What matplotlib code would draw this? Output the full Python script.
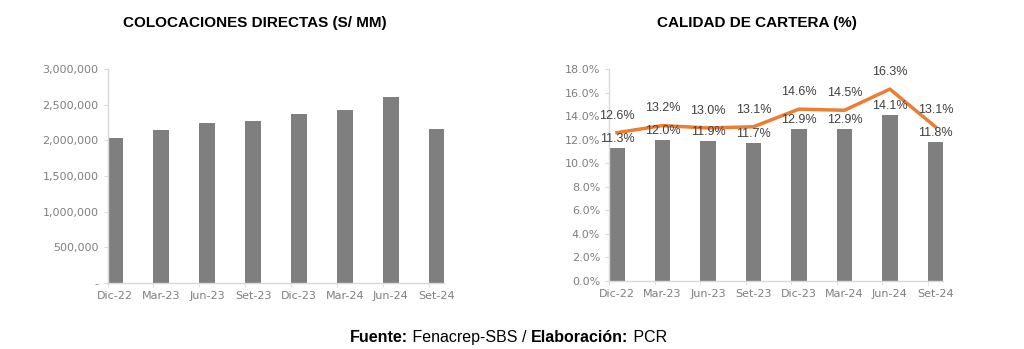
import numpy as np
import matplotlib.pyplot as plt
from matplotlib.ticker import FuncFormatter

# Data
periodos = ["Dic-22", "Mar-23", "Jun-23", "Set-23", "Dic-23", "Mar-24", "Jun-24", "Set-24"]
colocaciones = [2030000, 2145000, 2240000, 2270000, 2365000, 2430000, 2605000, 2155000]
morosidad = [11.3, 12.0, 11.9, 11.7, 12.9, 12.9, 14.1, 11.8]
cartera_alto_riesgo = [12.6, 13.2, 13.0, 13.1, 14.6, 14.5, 16.3, 13.1]

bar_color = "#7f7f7f"
line_color = "#ed7d31"
axis_color = "#d9d9d9"
tick_color = "#7f7f7f"
label_color = "#404040"

plt.rcParams["font.family"] = ["Liberation Sans", "DejaVu Sans"]

fig = plt.figure(figsize=(10.24, 3.49), dpi=100)
ax1 = fig.add_axes([0.105, 0.189, 0.329, 0.613])
ax2 = fig.add_axes([0.595, 0.195, 0.326, 0.607])

w = 0.34
x = np.arange(len(periodos))


def style_axis(ax):
    for s in ["top", "right"]:
        ax.spines[s].set_visible(False)
    for s in ["left", "bottom"]:
        ax.spines[s].set_color(axis_color)
        ax.spines[s].set_linewidth(1)
    ax.set_xlim(-w / 2, len(periodos) - 1 + w / 2)
    ax.set_xticks(x)
    ax.set_xticklabels(periodos, family="DejaVu Sans")
    ax.tick_params(axis="x", length=0, pad=6, labelsize=8, labelcolor=tick_color)
    ax.set_xticks(x - w / 2, minor=True)
    ax.tick_params(axis="x", which="minor", length=3, color=axis_color)
    ax.tick_params(axis="y", length=3, color=axis_color, labelsize=8, labelcolor=tick_color)
    for lbl in ax.get_yticklabels():
        lbl.set_family("DejaVu Sans")


# Left chart
ax1.bar(x, colocaciones, width=w, color=bar_color)
ax1.set_ylim(0, 3000000)
ax1.set_yticks(np.arange(0, 3000001, 500000))
ax1.yaxis.set_major_formatter(FuncFormatter(lambda v, p: "-" if v == 0 else f"{v:,.0f}"))
style_axis(ax1)
fig.text(0.249, 0.935, "COLOCACIONES DIRECTAS (S/ MM)", ha="center", va="center",
         fontsize=11, fontweight="bold", color="#000000")

# Right chart
ax2.bar(x, morosidad, width=w, color=bar_color, zorder=2)
ax2.plot(x, cartera_alto_riesgo, color=line_color, linewidth=2.5, zorder=3)
ax2.set_ylim(0, 18)
ax2.set_yticks(np.arange(0, 18.1, 2))
ax2.yaxis.set_major_formatter(FuncFormatter(lambda v, p: f"{v:.1f}%"))
style_axis(ax2)
for xi, v in zip(x, morosidad):
    ax2.annotate(f"{v:.1f}%", (xi, v), xytext=(0, 2), textcoords="offset points",
                 ha="center", va="bottom", fontsize=9, color=label_color, zorder=4)
for xi, v in zip(x, cartera_alto_riesgo):
    ax2.annotate(f"{v:.1f}%", (xi, v), xytext=(0, 8), textcoords="offset points",
                 ha="center", va="bottom", fontsize=9, color=label_color, zorder=4)
fig.text(0.739, 0.935, "CALIDAD DE CARTERA (%)", ha="center", va="center",
         fontsize=11, fontweight="bold", color="#000000")

# Footer
fy = 0.02
t1 = fig.text(0.342, fy, "Fuente:", fontsize=11.5, fontweight="bold", va="baseline")
t2 = fig.text(0, 0, " Fenacrep-SBS / ", fontsize=11.5, va="baseline")
t3 = fig.text(0, 0, "Elaboración:", fontsize=11.5, fontweight="bold", va="baseline")
t4 = fig.text(0, 0, " PCR", fontsize=11.5, va="baseline")
fig.canvas.draw()
r = fig.canvas.get_renderer()
prev = t1
for t in [t2, t3, t4]:
    bb = prev.get_window_extent(r)
    t.set_position((bb.x1 / fig.bbox.width, fy))
    fig.canvas.draw()
    prev = t

fig.savefig("out.png", dpi=100)
